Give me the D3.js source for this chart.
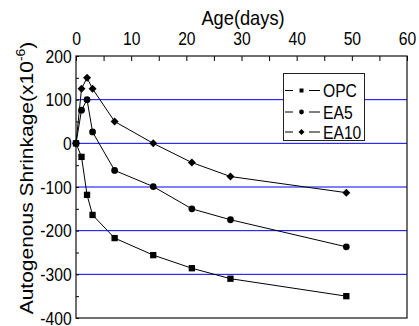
<!DOCTYPE html>
<html>
<head>
<meta charset="utf-8">
<script src="https://cdn.jsdelivr.net/npm/d3@7"></script>
<style>
  body { margin: 0; background: #fff; }
  text { font-family: "Liberation Sans", Arial, sans-serif; fill: #000; }
</style>
</head>
<body>
<div id="chart"></div>
<script>
const days = [0, 1, 2, 3, 7, 14, 21, 28, 49];
const opc  = [0, -31, -118, -164, -217, -256, -286, -310, -350];
const ea5  = [0, 76, 100, 26, -62, -99, -150, -175, -237];
const ea10 = [0, 125, 150, 125, 50, 0, -44, -76, -113];
const seriesNames = ["OPC", "EA5", "EA10"];
const xTicks = d3.range(0, 61, 5);
const yTicks = d3.range(-400, 201, 50);
const gridValues = [100, 0, -100, -200, -300];

const W = 419, H = 326;
const pLeft = 76, pRight = 407, pTop = 56, pBottom = 318;
const sx = 0.87; // glyphs in the picture are squeezed horizontally

const svg = d3.select("#chart").append("svg")
  .attr("width", W).attr("height", H);

const x = d3.scaleLinear().domain([0, 60]).range([pLeft, pRight]);
const y = d3.scaleLinear().domain([-400, 200]).range([pBottom, pTop]);

// blue grid lines
svg.append("g").selectAll("line").data(gridValues).join("line")
  .attr("x1", pLeft).attr("x2", pRight)
  .attr("y1", d => y(d)).attr("y2", d => y(d))
  .attr("stroke", "#0000ff").attr("stroke-width", 1);

// top axis
const xAxis = svg.append("g")
  .attr("transform", "translate(0," + pTop + ")")
  .call(d3.axisTop(x).tickValues(xTicks).tickSize(-5).tickPadding(11)
    .tickFormat(d => d % 10 === 0 ? d : ""));
xAxis.select(".domain").remove();
xAxis.selectAll("line").attr("stroke", "#000");
xAxis.selectAll("text").attr("font-size", 18)
  .attr("transform", "scale(" + sx + ",1)")
  .attr("font-family", "Liberation Sans, Arial, sans-serif");

// left axis
const yAxis = svg.append("g")
  .attr("transform", "translate(" + pLeft + ",0)")
  .call(d3.axisLeft(y).tickValues(yTicks).tickSize(-3).tickPadding(5)
    .tickFormat(d => d % 100 === 0 ? d : ""));
yAxis.select(".domain").remove();
yAxis.selectAll("line").attr("stroke", "#000");
yAxis.selectAll("text").attr("font-size", 18).attr("dy", "0.35em")
  .attr("transform", "scale(" + sx + ",1)")
  .attr("font-family", "Liberation Sans, Arial, sans-serif");

// frame
svg.append("rect")
  .attr("x", pLeft).attr("y", pTop)
  .attr("width", pRight - pLeft).attr("height", pBottom - pTop)
  .attr("fill", "none").attr("stroke", "#111").attr("stroke-width", 1.2);

// titles
svg.append("text")
  .attr("transform", "translate(243,25) scale(" + sx + ",1)")
  .attr("text-anchor", "middle").attr("font-size", 21)
  .text("Age(days)");

const yt = svg.append("text")
  .attr("transform", "translate(33,178) scale(" + sx + ",1) rotate(-90)")
  .attr("text-anchor", "middle").attr("font-size", 21);
yt.append("tspan").text("Autogenous Shrinkage(x10");
yt.append("tspan").attr("font-size", 14).attr("dy", -9).text("-6");
yt.append("tspan").attr("dy", 9).text(")");

// marker shapes (diamond = square turned 45 degrees)
const shapes = [d3.symbolSquare, d3.symbolCircle, d3.symbolSquare];
const turn = [0, 0, 45];
const bigSize = [40, 36, 32];
const smallSize = [16, 18, 18];

const allSeries = [opc, ea5, ea10];
const line = d3.line().x((d, i) => x(days[i])).y(d => y(d));

allSeries.forEach((vals, k) => {
  svg.append("path").datum(vals)
    .attr("d", line)
    .attr("fill", "none").attr("stroke", "#000").attr("stroke-width", 1);
  svg.append("g").selectAll("path").data(vals).join("path")
    .attr("transform", (d, i) => "translate(" + x(days[i]) + "," + y(d) + ") rotate(" + turn[k] + ")")
    .attr("d", d3.symbol().type(shapes[k]).size(bigSize[k])())
    .attr("fill", "#000");
});

// legend
const lg = svg.append("g");
lg.append("rect")
  .attr("x", 283.5).attr("y", 73.5).attr("width", 81).attr("height", 67)
  .attr("fill", "#fff").attr("stroke", "#222").attr("stroke-width", 1);
const rowY = [90.5, 112, 132];
seriesNames.forEach((name, k) => {
  const cy = rowY[k];
  lg.append("line").attr("x1", 285).attr("x2", 293)
    .attr("y1", cy).attr("y2", cy).attr("stroke", "#000");
  lg.append("line").attr("x1", 309).attr("x2", 320)
    .attr("y1", cy).attr("y2", cy).attr("stroke", "#000");
  lg.append("path").attr("transform", "translate(301.5," + cy + ") rotate(" + turn[k] + ")")
    .attr("d", d3.symbol().type(shapes[k]).size(smallSize[k])()).attr("fill", "#000");
  lg.append("text")
    .attr("transform", "translate(323," + (cy + 6.5) + ") scale(" + sx + ",1)")
    .attr("font-size", 18).text(name);
});
</script>
</body>
</html>
